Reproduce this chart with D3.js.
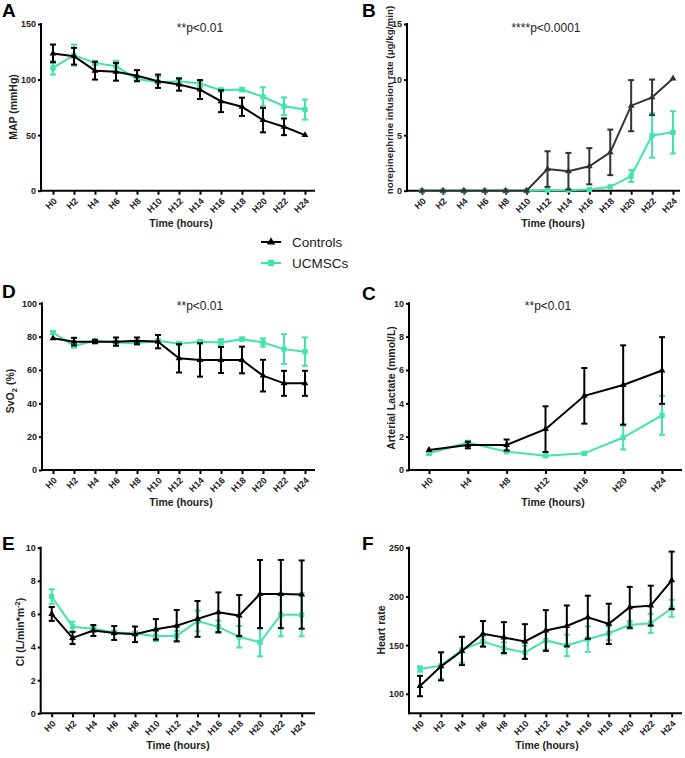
<!DOCTYPE html>
<html><head><meta charset="utf-8">
<script src="https://cdn.jsdelivr.net/npm/d3@7"></script>
<style>
body{margin:0;background:#fff;}
svg{display:block;font-family:"Liberation Sans",Arial,sans-serif;}
</style></head>
<body>
<svg id="chart" width="685" height="758"></svg>
<script>
// ---------- data ----------
const hours13 = ["H0","H2","H4","H6","H8","H10","H12","H14","H16","H18","H20","H22","H24"];
const hours7 = ["H0","H4","H8","H12","H16","H20","H24"];
const seriesNames = ["Controls","UCMSCs"];

// A: MAP (mmHg)
const mapCtrl = [123.5,121,108,107,103.5,98.5,95.5,91,80.5,75.5,63.5,57.5,50];
const mapCtrlSd = [8,7.5,8,8,5,6,5.5,8.5,9.8,8.2,11,7.5,0];
const mapUc = [110.5,122,115,112,100.5,97.5,98.5,96.5,90.5,91,84.5,76,73];
const mapUcSd = [6,9.5,2,5,2,5,3,3,1.5,1.5,8.5,8,9];

// B: norepinephrine infusion rate
const neCtrl = [0,0,0,0,0,0,1.95,1.75,2.2,3.45,7.65,8.4,10.1];
const neCtrlSd = [0,0,0,0,0,0,1.6,1.65,1.63,2.05,2.3,1.6,0];
const neUc = [0,0,0,0,0,0,0.05,0.05,0.1,0.35,1.32,4.97,5.25];
const neUcSd = [0,0,0,0,0,0,0,0,0,0,0.53,2.0,1.9];

// D: SvO2 (%)
const svoCtrl = [79,77,77,77,77.5,77,67,66,66,66,56.6,52,52];
const svoCtrlSd = [0,2.3,1,2.5,2,4,8.5,10,7.8,8,9.5,7.5,7.5];
const svoUc = [82.5,74.5,77.5,76.5,76,77.5,75.8,77,76.5,78.5,76.5,72.5,71];
const svoUcSd = [0.8,1,1,1,1,1,1,1,2,1,2.5,9,8.5];

// C: Arterial lactate (mmol/L)
const lacCtrl = [1.2,1.5,1.5,2.45,4.45,5.1,5.97];
const lacCtrlSd = [0,0.2,0.33,1.37,1.67,2.38,2.0];
const lacUc = [1.0,1.65,1.1,0.85,1.0,1.95,3.28];
const lacUcSd = [0.05,0.1,0.05,0.05,0.05,0.72,1.17];

// E: CI (L/min*m-2)
const ciCtrl = [6.0,4.55,5.0,4.85,4.77,5.07,5.29,5.7,6.1,5.9,7.2,7.2,7.17];
const ciCtrlSd = [0.42,0.37,0.33,0.42,0.47,0.62,0.95,1.08,1.2,1.24,2.06,2.06,2.06];
const ciUc = [7.05,5.23,5.1,4.88,4.83,4.65,4.68,5.57,5.22,4.62,4.29,5.95,5.95];
const ciUcSd = [0.44,0.3,0.1,0.1,0.1,0.3,0.3,0.63,0.38,0.65,0.85,1.3,1.3];

// F: Heart rate
const hrCtrl = [108,128.2,144,161.6,157.8,153.7,165,169.7,178.6,171.8,188.8,190.5,216.5];
const hrCtrlSd = [10.5,14.4,14.5,13.1,15.8,17.8,20.9,21,22.1,20.7,21,20.5,29.5];
const hrUc = [125.5,128.9,145.2,153.7,146.9,142.5,154.8,149.7,156.1,162.2,170.7,172.4,187.8];
const hrUcSd = [2.8,13.5,13.5,5.1,6,6.8,9.5,11,13.1,7,4,9.8,8.7];

// ---------- drawing ----------
const GREEN = "#44e3ae";
const svg = d3.select("#chart");

function drawPanel(p){
  const g = svg.append("g");
  const x = d3.scalePoint().domain(p.cats).range(p.xr);
  const y = d3.scaleLinear().domain(p.yd).range(p.yr);

  // y axis
  const ya = g.append("g").attr("transform",`translate(${p.ax},0)`)
    .call(d3.axisLeft(y).tickValues(p.yt).tickSize(3).tickSizeOuter(0).tickPadding(2));
  ya.select(".domain").remove();
  ya.selectAll("line").attr("stroke","#000").attr("stroke-width",2);
  ya.selectAll("text").attr("font-size",9).attr("font-weight","bold").attr("fill","#222")
    .attr("font-family","Liberation Sans, Arial, sans-serif");
  g.append("line").attr("x1",p.ax).attr("x2",p.ax).attr("y1",p.yr[1]-1).attr("y2",p.yr[0]+1)
    .attr("stroke","#000").attr("stroke-width",2);

  // x axis
  const xa = g.append("g").attr("transform",`translate(0,${p.yr[0]})`)
    .call(d3.axisBottom(x).tickSize(4).tickSizeOuter(0));
  xa.select(".domain").remove();
  xa.selectAll("line").attr("stroke","#000").attr("stroke-width",2);
  xa.selectAll("text").attr("font-size",9).attr("font-weight","bold").attr("fill","#222")
    .attr("font-family","Liberation Sans, Arial, sans-serif")
    .attr("text-anchor","end").attr("dy",null).attr("y",null)
    .attr("transform","translate(4,11) rotate(-45)");
  g.append("line").attr("x1",p.ax-1).attr("x2",p.xend).attr("y1",p.yr[0]).attr("y2",p.yr[0])
    .attr("stroke","#000").attr("stroke-width",2);

  // series (green first, then black on top)
  [1,0].forEach(i=>{
    const s = p.series[i];
    const col = s.color;
    const pts = p.cats.map((c,k)=>({c, m:s.mean[k], sd:s.sd[k]}));
    const eb = g.append("g");
    pts.forEach(d=>{
      if(d.sd<=0) return;
      const cx = x(d.c), y1 = y(d.m+d.sd), y0 = y(Math.max(p.yd[0], d.m-d.sd));
      eb.append("line").attr("x1",cx).attr("x2",cx).attr("y1",y1).attr("y2",y0)
        .attr("stroke",col).attr("stroke-width",2);
      eb.append("line").attr("x1",cx-3).attr("x2",cx+3).attr("y1",y1).attr("y2",y1)
        .attr("stroke",col).attr("stroke-width",2);
      eb.append("line").attr("x1",cx-3).attr("x2",cx+3).attr("y1",y0).attr("y2",y0)
        .attr("stroke",col).attr("stroke-width",2);
    });
    g.append("path").datum(pts)
      .attr("d", d3.line().x(d=>x(d.c)).y(d=>y(d.m)))
      .attr("fill","none").attr("stroke",col).attr("stroke-width",2);
    const sym = d3.symbol().type(s.marker==="tri"?d3.symbolTriangle:d3.symbolSquare).size(s.marker==="tri"?20:28);
    g.selectAll(null).data(pts).enter().append("path")
      .attr("d",sym).attr("fill",col)
      .attr("transform",d=>`translate(${x(d.c)},${y(d.m)})`);
  });

  // panel letter
  g.append("text").attr("x",p.lx).attr("y",p.ly).text(p.letter)
    .attr("font-size",19).attr("font-weight","bold").attr("fill","#000");
  // p value
  if(p.ptext) g.append("text").attr("x",p.px).attr("y",p.py).text(p.ptext)
    .attr("font-size",12).attr("text-anchor","middle").attr("fill","#222");
  // x title
  g.append("text").attr("x",p.xtx).attr("y",p.yr[0]+36).text("Time (hours)")
    .attr("font-size",10.5).attr("font-weight","bold").attr("text-anchor","middle").attr("fill","#222");
  // y title
  const yt = g.append("text").attr("transform",`translate(${p.ytx},${p.yty}) rotate(-90)`)
    .attr("font-size",p.ytfs||10.5).attr("font-weight","bold").attr("text-anchor","middle").attr("fill","#222");
  p.ytitle(yt);
}

const ctrlStyle = (mean,sd,col)=>({mean,sd,color:col||"#000",marker:"tri"});
const ucStyle = (mean,sd)=>({mean,sd,color:GREEN,marker:"sq"});

drawPanel({cats:hours13, xr:[53,305], ax:41, xend:315, yd:[0,150], yr:[190.7,24], yt:[0,50,100,150],
  series:[ctrlStyle(mapCtrl,mapCtrlSd), ucStyle(mapUc,mapUcSd)],
  letter:"A", lx:2, ly:17, ptext:"**p<0.01", px:200, py:32, xtx:181, ytx:17, yty:107,
  ytitle:t=>t.text("MAP (mmHg)")});

drawPanel({cats:hours13, xr:[422,673], ax:407, xend:680, yd:[0,15], yr:[190.7,24], yt:[0,5,10,15],
  series:[ctrlStyle(neCtrl,neCtrlSd,"#333"), ucStyle(neUc,neUcSd)],
  letter:"B", lx:362, ly:17, ptext:"****p<0.0001", px:546, py:32, xtx:553, ytx:393, yty:100, ytfs:9.8,
  ytitle:t=>t.text("norepinephrine infusion rate (μg/kg/min)")});

drawPanel({cats:hours13, xr:[53,305], ax:42, xend:315, yd:[0,100], yr:[470,303.3], yt:[0,20,40,60,80,100],
  series:[ctrlStyle(svoCtrl,svoCtrlSd), ucStyle(svoUc,svoUcSd)],
  letter:"D", lx:2, ly:298, ptext:"**p<0.01", px:200, py:310, xtx:181, ytx:14, yty:391,
  ytitle:t=>{t.append("tspan").text("SvO");t.append("tspan").text("2").attr("font-size",7.5).attr("dy",3);
    t.append("tspan").text(" (%)").attr("dy",-3);}});

drawPanel({cats:hours7, xr:[429,662], ax:409, xend:682, yd:[0,10], yr:[470,303.3], yt:[0,2,4,6,8,10],
  series:[ctrlStyle(lacCtrl,lacCtrlSd), ucStyle(lacUc,lacUcSd)],
  letter:"C", lx:362, ly:300, ptext:"**p<0.01", px:548, py:310, xtx:553, ytx:395, yty:388,
  ytitle:t=>t.text("Arterial Lactate (mmol/L)")});

drawPanel({cats:hours13, xr:[51.7,301.7], ax:40.7, xend:315, yd:[0,10], yr:[713.3,547.7], yt:[0,2,4,6,8,10],
  series:[ctrlStyle(ciCtrl,ciCtrlSd), ucStyle(ciUc,ciUcSd)],
  letter:"E", lx:2, ly:550, ptext:"", xtx:178, ytx:24, yty:632,
  ytitle:t=>{t.append("tspan").text("CI (L/min*m");t.append("tspan").text("-2").attr("font-size",7.5).attr("dy",-4);
    t.append("tspan").text(")").attr("dy",4);}});

drawPanel({cats:hours13, xr:[420,671.7], ax:409, xend:682, yd:[80,250], yr:[713.3,547.7], yt:[100,150,200,250],
  series:[ctrlStyle(hrCtrl,hrCtrlSd), ucStyle(hrUc,hrUcSd)],
  letter:"F", lx:362, ly:550, ptext:"", xtx:547, ytx:385, yty:630,
  ytitle:t=>t.text("Heart rate")});

// legend
const leg = svg.append("g");
seriesNames.forEach((name,i)=>{
  const yy = 242 + i*21;
  const col = i===0 ? "#000" : GREEN;
  leg.append("line").attr("x1",261).attr("x2",281).attr("y1",yy).attr("y2",yy).attr("stroke",col).attr("stroke-width",2);
  leg.append("path").attr("d",d3.symbol().type(i===0?d3.symbolTriangle:d3.symbolSquare).size(i===0?30:40)())
    .attr("transform",`translate(271,${yy})`).attr("fill",col);
  leg.append("text").attr("x",292).attr("y",yy+4.5).text(name).attr("font-size",13.5).attr("fill","#222");
});
</script>
</body></html>
